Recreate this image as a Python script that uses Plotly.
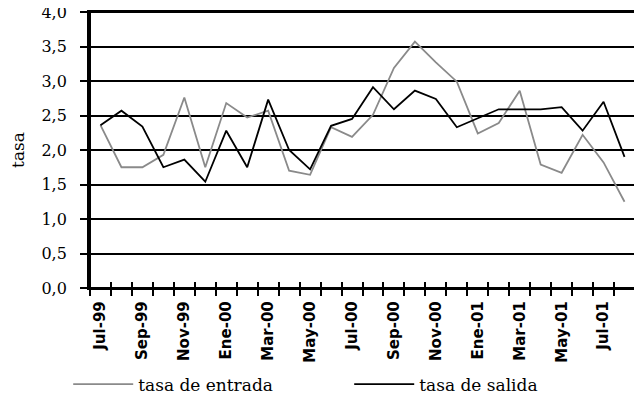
import plotly.graph_objects as go

months = ["Jul-99", "Ago-99", "Sep-99", "Oct-99", "Nov-99", "Dic-99",
          "Ene-00", "Feb-00", "Mar-00", "Abr-00", "May-00", "Jun-00",
          "Jul-00", "Ago-00", "Sep-00", "Oct-00", "Nov-00", "Dic-00",
          "Ene-01", "Feb-01", "Mar-01", "Abr-01", "May-01", "Jun-01",
          "Jul-01", "Ago-01"]

tasa_entrada = [2.36, 1.75, 1.75, 1.93, 2.76, 1.75, 2.68, 2.47, 2.57, 1.70,
                1.64, 2.33, 2.19, 2.51, 3.19, 3.57, 3.27, 2.99, 2.24, 2.39,
                2.86, 1.79, 1.67, 2.22, 1.82, 1.25]

tasa_salida = [2.36, 2.57, 2.34, 1.75, 1.86, 1.54, 2.28, 1.75, 2.73, 2.00,
               1.72, 2.35, 2.45, 2.91, 2.59, 2.86, 2.74, 2.33, 2.46, 2.59,
               2.59, 2.59, 2.62, 2.28, 2.70, 1.90]

tick_labels = [m + "\u00a0" if i % 2 == 0 else "" for i, m in enumerate(months)]

SERIF = "DejaVu Serif"

fig = go.Figure()
fig.add_trace(go.Scatter(x=months, y=tasa_entrada, mode="lines",
                         name="tasa de entrada",
                         line=dict(color="#8a8a8a", width=1.8)))
fig.add_trace(go.Scatter(x=months, y=tasa_salida, mode="lines",
                         name="tasa de salida",
                         line=dict(color="#000000", width=1.8)))
# invisible helper trace for the inside half of the cross tick marks
fig.add_trace(go.Scatter(x=months, y=[None] * len(months), xaxis="x2",
                         showlegend=False, hoverinfo="skip"))

# plot-area frame (top and right borders)
fig.add_shape(type="rect", xref="paper", yref="paper", x0=0, x1=1, y0=0, y1=1,
              line=dict(color="black", width=2), layer="above")

fig.update_layout(
    template="none",
    width=634, height=390,
    margin=dict(l=82, r=7, t=4, b=110, autoexpand=False),
    paper_bgcolor="white", plot_bgcolor="white",
    separators=",.",
    font=dict(family=SERIF, size=16, color="black"),
    showlegend=True,
    legend=dict(orientation="h", x=-0.04, y=-0.285, xanchor="left",
                yanchor="top", font=dict(family=SERIF, size=17),
                entrywidth=206, entrywidthmode="pixels", itemwidth=60,
                bgcolor="rgba(0,0,0,0)"),
    xaxis=dict(type="category", range=[-0.5, 25.5], automargin=False,
               tickmode="array", tickvals=months, ticktext=tick_labels,
               tickson="boundaries", ticks="outside", ticklen=6,
               tickwidth=1.5, tickcolor="black", tickangle=-90,
               tickfont=dict(family="DejaVu Sans", size=15,
                             color="black", weight="bold"),
               showline=True, linecolor="black", linewidth=2,
               showgrid=False, zeroline=False, mirror=True),
    xaxis2=dict(type="category", range=[-0.5, 25.5], overlaying="x",
                anchor="y", side="bottom", automargin=False,
                tickmode="array", tickvals=months,
                ticktext=[""] * len(months),
                tickson="boundaries", ticks="inside", ticklen=6,
                tickwidth=1.5, tickcolor="black",
                showticklabels=False, showline=False, showgrid=False,
                zeroline=False),
    yaxis=dict(range=[0, 4], tickmode="linear", tick0=0, dtick=0.5,
               tickformat=".1f", ticks="outside", ticklen=7,
               ticksuffix="\u00a0\u00a0",
               tickwidth=1.5, tickcolor="black", automargin=False,
               ticklabeloverflow="allow",
               tickfont=dict(family=SERIF, size=16, color="black"),
               showgrid=True, gridcolor="black", gridwidth=1.5,
               showline=True, linecolor="black", linewidth=2.5,
               mirror=True, zeroline=False,
               title=dict(text="tasa",
                          font=dict(family=SERIF, size=17),
                          standoff=16)),
)

fig.write_html("out.html")
